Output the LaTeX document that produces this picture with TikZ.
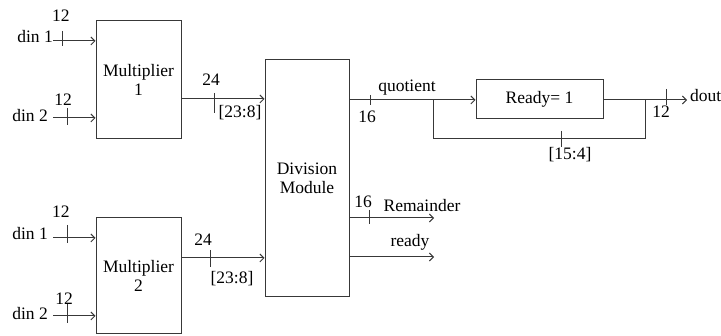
\documentclass[tikz,border=0pt]{standalone}
\usepackage{fontspec}
\setmainfont{Liberation Serif}
\usetikzlibrary{arrows.meta}
\begin{document}
\begin{tikzpicture}[x=1pt,y=-1pt,
  wire/.style={line width=1pt, draw=black!78},
  sig/.style={wire,-{Straight Barb[length=4pt,width=8pt,line width=0.9pt]}},
  tick/.style={line width=1pt, draw=black!78},
  block/.style={draw=black!78, line width=1pt, align=center, inner sep=0pt,
    font=\fontsize{17.5}{19}\selectfont},
  lbl/.style={font=\fontsize{17.5}{19}\selectfont, inner sep=0pt},
]
\useasboundingbox (0,0) rectangle (721,336);

% blocks
\node[block, minimum width=85pt, minimum height=118pt] (m1) at (138.5,80) {Multiplier\\1};
\node[block, minimum width=85pt, minimum height=116pt] (m2) at (138.5,276) {Multiplier\\2};
\node[block, minimum width=84pt, minimum height=237pt] (div) at (307,178.5) {Division\\Module};
\node[block, minimum width=127pt, minimum height=39pt] (rdy) at (539.5,99.5) {Ready= 1};

% input ports
\node[lbl, anchor=base east] (a1) at (53,43) {din 1};
\node[lbl, anchor=base east] (a2) at (48,122) {din 2};
\node[lbl, anchor=base east] (b1) at (48,240) {din 1};
\node[lbl, anchor=base east] (b2) at (48,320) {din 2};
\coordinate (ia1) at (53,41);
\coordinate (ia2) at (53,118);
\coordinate (ib1) at (53,238);
\coordinate (ib2) at (53,316);
\draw[sig] (ia1) -- (ia1 -| m1.west);
\draw[sig] (ia2) -- (ia2 -| m1.west);
\draw[sig] (ib1) -- (ib1 -| m2.west);
\draw[sig] (ib2) -- (ib2 -| m2.west);
\draw[tick] (62,31) -- (62,46);
\draw[tick] (67,108) -- (67,125);
\draw[tick] (67,225) -- (67,243);
\draw[tick] (67,303) -- (67,323);
\node[lbl] (w1) at (61,16) {12};
\node[lbl] (w2) at (63,100) {12};
\node[lbl] (w3) at (61,212) {12};
\node[lbl] (w4) at (64,299) {12};

% products into the divider
\coordinate (p1) at (181,99);
\coordinate (p2) at (181,258);
\draw[sig] (p1) -- (p1 -| div.west);
\draw[sig] (p2) -- (p2 -| div.west);
\draw[tick] (214,93) -- (214,113);
\draw[tick] (210,250) -- (210,267);
\node[lbl] (n24a) at (211,80) {24};
\node[lbl] (s1) at (240,113) {[23:8]};
\node[lbl] (n24b) at (203,240) {24};
\node[lbl] (s2) at (232,279) {[23:8]};

% quotient path
\coordinate (q0) at (349,100);
\coordinate (qj) at (433,100);
\coordinate (fb) at (645,100);
\coordinate (dend) at (687,100);
\draw[sig] (q0) -- (rdy.west |- q0);
\draw[wire] (qj) -- (433,139) -- (645,139) -- (fb);
\draw[wire] (rdy.east |- fb) -- (fb);
\draw[sig] (fb) -- (dend);
\draw[tick] (370,95) -- (370,105);
\draw[tick] (561,131) -- (561,147);
\draw[tick] (666,89) -- (666,105);
\node[lbl, anchor=base] (ql) at (407,92) {quotient};
\node[lbl] (q16) at (367,117) {16};
\node[lbl] (sl) at (570,155) {[15:4]};
\node[lbl] (d12) at (661,112) {12};
\node[lbl, anchor=base west] (dout) at (690,102) {dout};

% remainder and ready outputs
\coordinate (r0) at (349,218);
\coordinate (r1) at (434,218);
\coordinate (y0) at (349,257);
\coordinate (y1) at (434,257);
\draw[sig] (r0) -- (r1);
\draw[sig] (y0) -- (y1);
\draw[tick] (369,210) -- (369,224);
\node[lbl] (r16) at (363,202) {16};
\node[lbl, anchor=base] (rl) at (422,212) {Remainder};
\node[lbl, anchor=base] (yl) at (410,247) {ready};
\end{tikzpicture}
\end{document}
